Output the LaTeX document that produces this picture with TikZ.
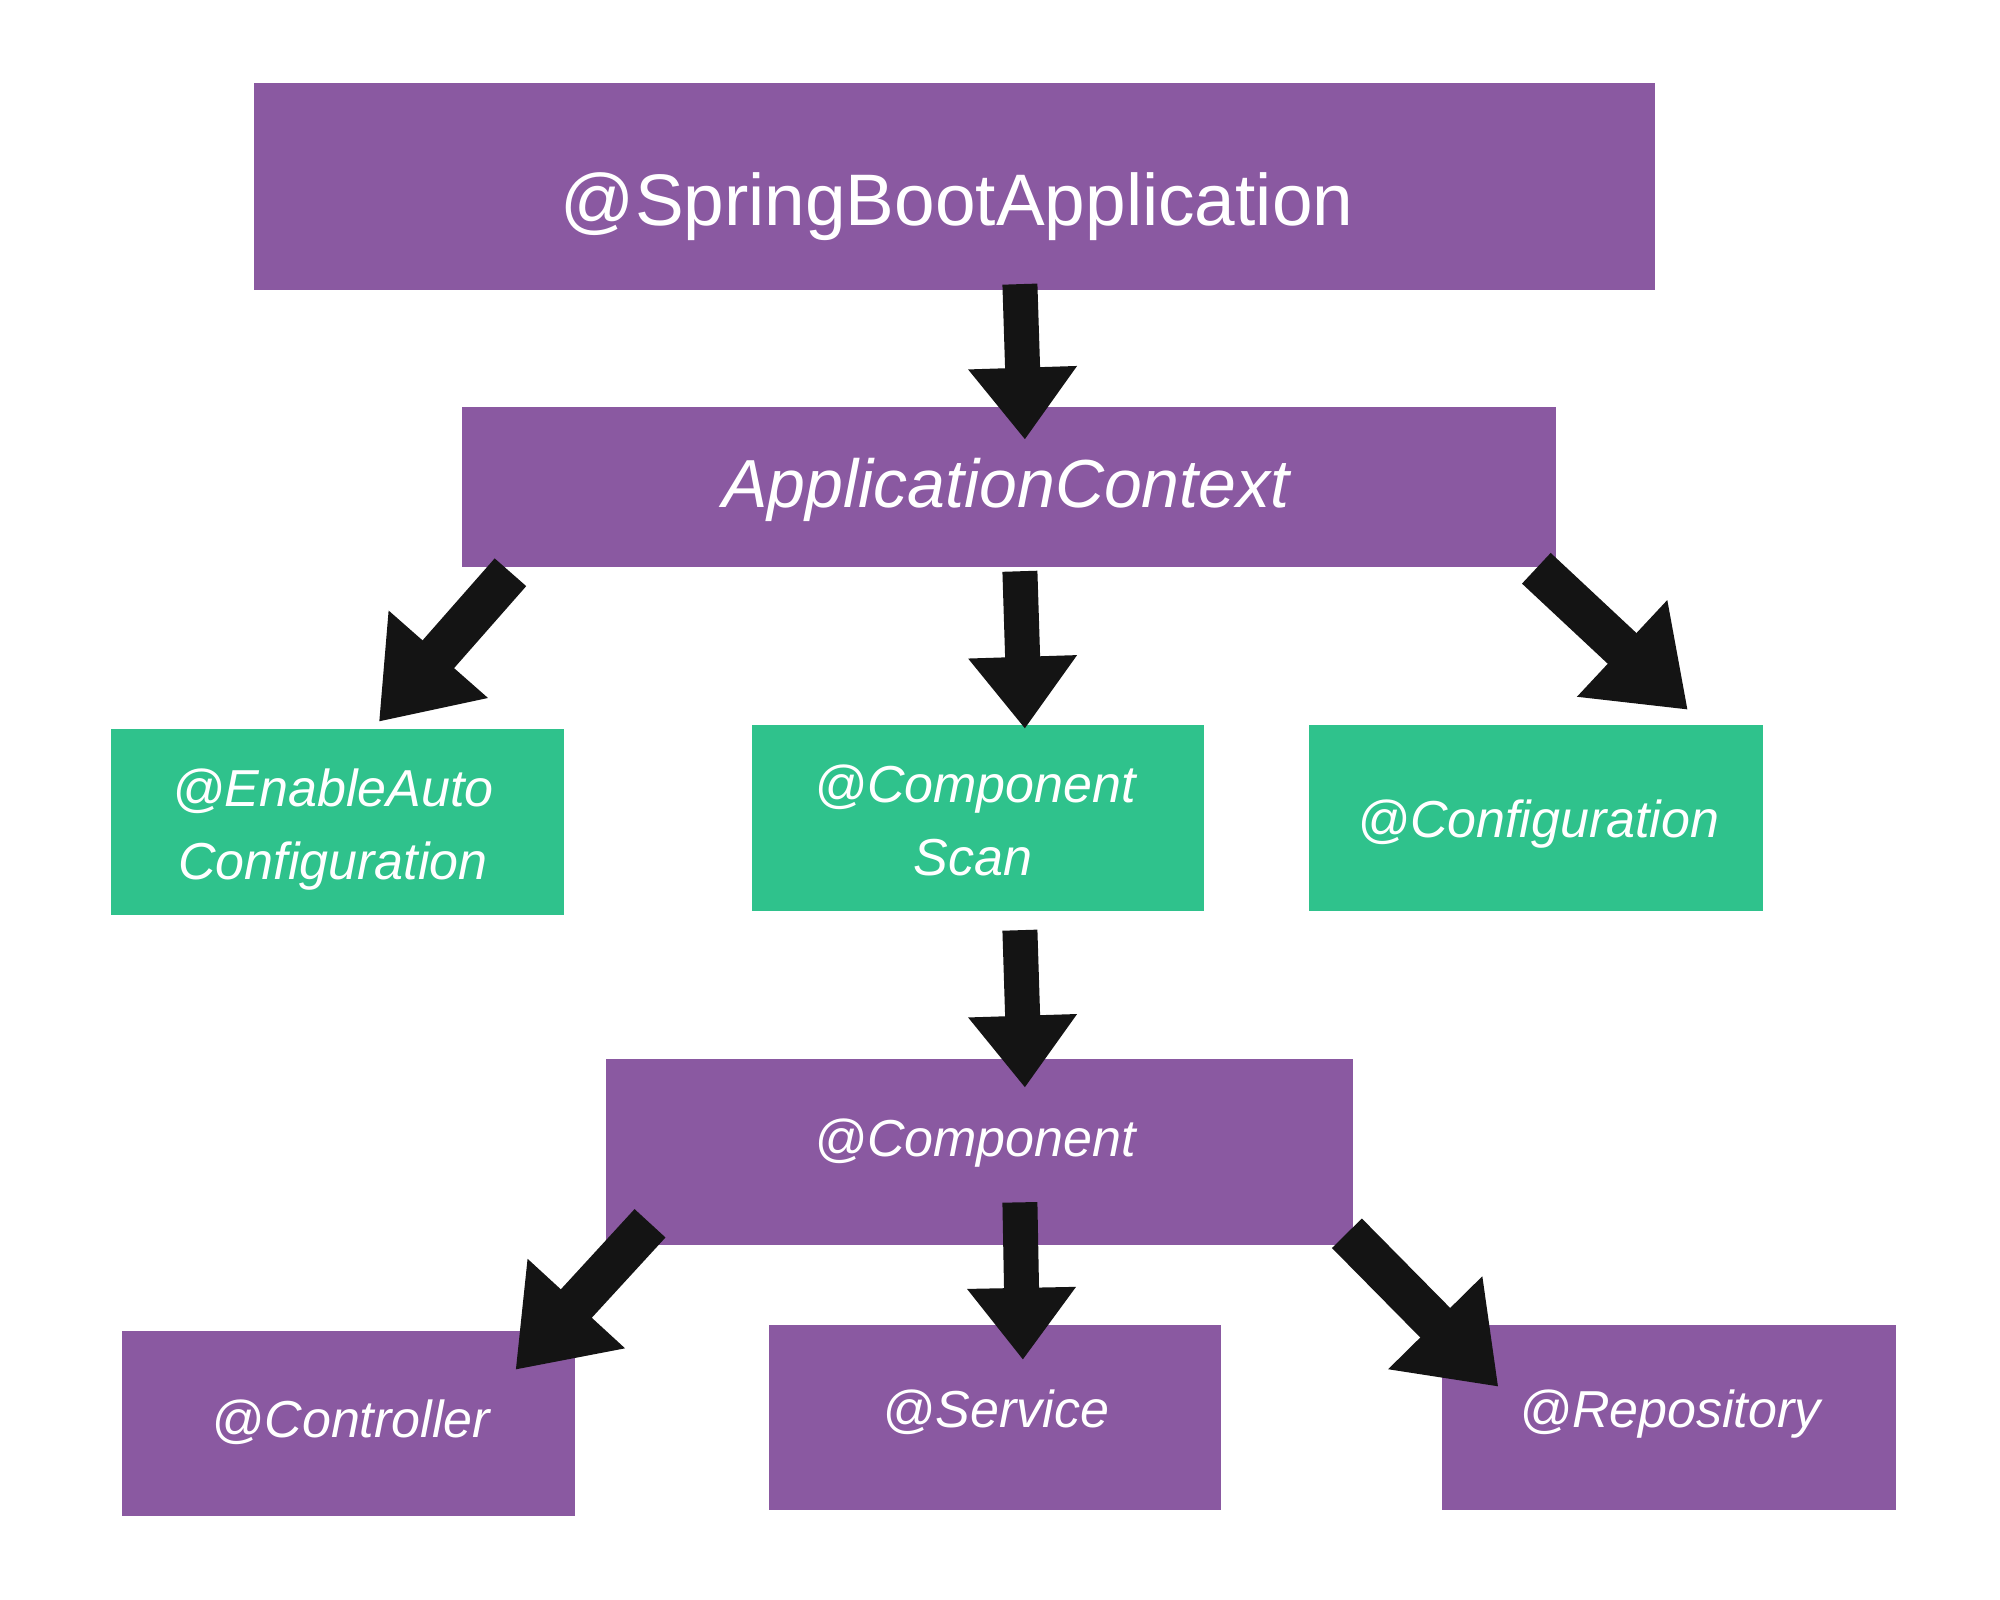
\documentclass[tikz,border=0pt]{standalone}
\usepackage{fontspec}
\setmainfont{Liberation Sans}
\usetikzlibrary{arrows.meta}
\definecolor{boxpurple}{RGB}{138,89,161}
\definecolor{boxgreen}{RGB}{47,194,140}
\tikzset{
  pbox/.style={fill=boxpurple, draw=none, inner sep=0pt, outer sep=0pt, anchor=north west},
  gbox/.style={fill=boxgreen, draw=none, inner sep=0pt, outer sep=0pt, anchor=north west},
  lbl/.style={text=white, inner sep=0pt, anchor=base, font=\fontsize{52}{73}\selectfont\itshape},
  vararrow/.style={draw=black!92, line width=35pt, -{Triangle[length=72pt,width=104pt]}},
  diagarrow/.style={draw=black!92, line width=42pt, -{Triangle[length=90pt,width=126pt]}},
}
\begin{document}
\begin{tikzpicture}[x=1pt,y=-1pt]
\useasboundingbox (0,0) rectangle (2000,1600);
\fill[white] (0,0) rectangle (2000,1600);
\begin{scope}[scale=0.997]
% boxes
\node[pbox, minimum width=1401pt, minimum height=207pt] (sb) at (255,83) {};
\node[pbox, minimum width=1094pt, minimum height=160pt] (ac) at (463,408) {};
\node[gbox, minimum width=453pt, minimum height=186pt] (ea) at (111,731) {};
\node[gbox, minimum width=452pt, minimum height=186pt] (cs) at (754,727) {};
\node[gbox, minimum width=454pt, minimum height=186pt] (cf) at (1313,727) {};
\node[pbox, minimum width=747pt, minimum height=186pt] (cp) at (608,1062) {};
\node[pbox, minimum width=453pt, minimum height=185pt] (ct) at (122,1335) {};
\node[pbox, minimum width=452pt, minimum height=185pt] (sv) at (771,1329) {};
\node[pbox, minimum width=454pt, minimum height=185pt] (rp) at (1446,1329) {};
% labels
\node[lbl, font=\fontsize{73}{88}\selectfont] (sbt) at (960,226) {@SpringBootApplication};
\node[lbl, font=\fontsize{68}{80}\selectfont\itshape] (act) at (1009,509) {ApplicationContext};
\node[lbl] (eat1) at (334,809) {@EnableAuto};
\node[lbl] (eat2) at (334,882) {Configuration};
\node[lbl] (cst1) at (978,805) {@Component};
\node[lbl] (cst2) at (976,878) {Scan};
\node[lbl] (cft) at (1543,840) {@Configuration};
\node[lbl] (cpt) at (978,1160) {@Component};
\node[lbl] (ctt) at (352,1442) {@Controller};
\node[lbl] (svt) at (999,1432) {@Service};
\node[lbl] (rpt) at (1675,1432) {@Repository};
% arrow end points
\coordinate (a1s) at (1023,285);  \coordinate (a1e) at (1028,441);
\coordinate (a2s) at (1023,573);  \coordinate (a2e) at (1028,731);
\coordinate (a3s) at (1023,933);  \coordinate (a3e) at (1028,1091);
\coordinate (a4s) at (1023,1206); \coordinate (a4e) at (1026,1364);
\coordinate (d1s) at (512,574);   \coordinate (d1e) at (380,724);
\coordinate (d2s) at (1541,570);  \coordinate (d2e) at (1693,712);
\coordinate (d3s) at (652,1227);  \coordinate (d3e) at (517,1374);
\coordinate (d4s) at (1351,1237); \coordinate (d4e) at (1503,1391);
% arrows
\draw[vararrow] (a1s) -- (a1e);
\draw[vararrow] (a2s) -- (a2e);
\draw[vararrow] (a3s) -- (a3e);
\draw[vararrow] (a4s) -- (a4e);
\draw[diagarrow] (d1s) -- (d1e);
\draw[diagarrow] (d2s) -- (d2e);
\draw[diagarrow] (d3s) -- (d3e);
\draw[diagarrow] (d4s) -- (d4e);
\end{scope}
\end{tikzpicture}
\end{document}
